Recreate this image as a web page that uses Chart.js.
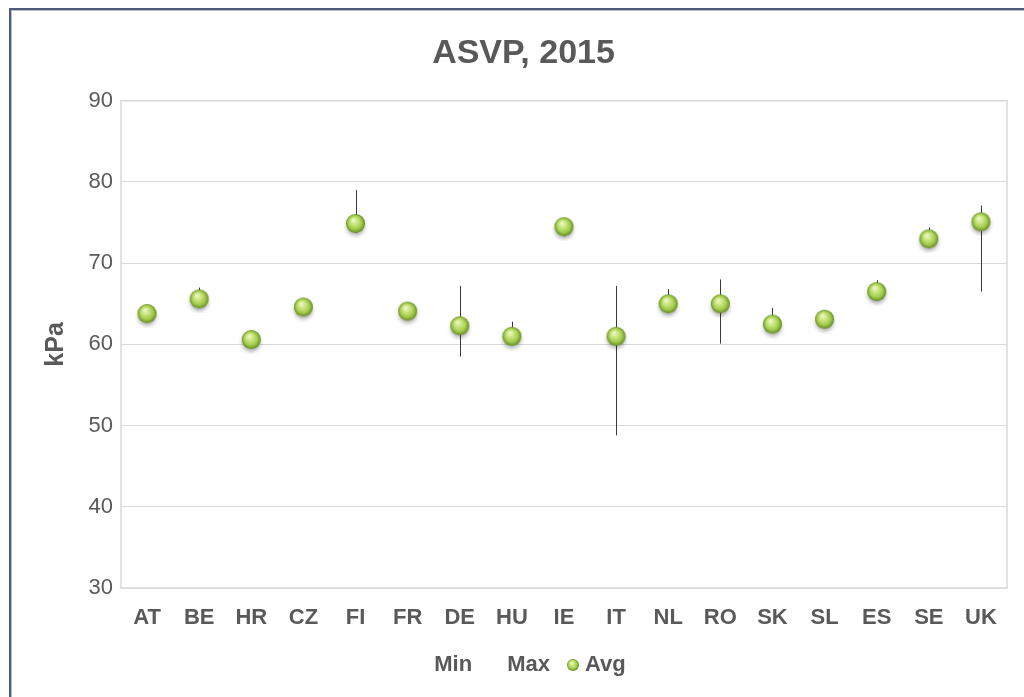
<!DOCTYPE html>
<html>
<head>
<meta charset="utf-8">
<title>ASVP, 2015</title>
<script src="https://cdn.jsdelivr.net/npm/chart.js@4"></script>
<style>
  html, body { margin: 0; padding: 0; background: #fff; overflow: hidden; }
  #wrap { position: relative; width: 1024px; height: 697px; }
  #frame {
    position: absolute; left: 9px; top: 8px; width: 1100px; height: 800px;
    border-top: 2px solid #4a5a78; border-left: 2px solid #4a5a78;
    box-shadow: inset 1px 1px 0 #b8c0cc; pointer-events: none;
  }
</style>
</head>
<body>
<div id="wrap">
  <canvas id="grafico" width="1024" height="697"></canvas>
  <div id="frame"></div>
</div>
<script>
// dados
const paises = ['AT', 'BE', 'HR', 'CZ', 'FI', 'FR', 'DE', 'HU', 'IE', 'IT', 'NL', 'RO', 'SK', 'SL', 'ES', 'SE', 'UK'];
const valoresMin = [63.3, 65.1, 60.1, 64.1, 73.7, 63.6, 58.5, 60.5, 73.3, 48.8, 64.5, 60.1, 62.0, 62.6, 66.0, 72.5, 66.5];
const valoresMax = [64.3, 67.0, 61.1, 65.1, 79.0, 64.6, 67.2, 62.8, 75.0, 67.2, 66.8, 68.0, 64.5, 63.6, 67.9, 74.4, 77.1];
const valoresAvg = [63.8, 65.6, 60.6, 64.6, 74.9, 64.1, 62.3, 61.0, 74.5, 61.0, 65.0, 65.0, 62.5, 63.1, 66.5, 73.0, 75.1];
const ticksY = [30, 40, 50, 60, 70, 80, 90];

const corTexto = '#595959';
const fonte = "'Liberation Sans', Arial, sans-serif";

// bolinha verde estilo Excel
function criarBola(raio, comSombra) {
    const tam = comSombra ? Math.ceil(raio * 2 + 10) : Math.ceil(raio * 2 + 2);
    const c = document.createElement('canvas');
    c.width = tam; c.height = tam;
    const g = c.getContext('2d');
    const cx = tam / 2, cy = tam / 2;
    if (comSombra) {
        g.save();
        g.shadowColor = 'rgba(0,0,0,0.35)';
        g.shadowBlur = 4;
        g.shadowOffsetY = 3;
        g.fillStyle = '#6f9528';
        g.beginPath(); g.arc(cx, cy, raio - 0.5, 0, Math.PI * 2); g.fill();
        g.restore();
    }
    const grad = g.createRadialGradient(cx - raio * 0.25, cy - raio * 0.4, 0, cx, cy, raio);
    grad.addColorStop(0, '#f2fad0');
    grad.addColorStop(0.35, '#cde888');
    grad.addColorStop(0.72, '#a2cb4a');
    grad.addColorStop(1, '#648b22');
    g.fillStyle = grad;
    g.beginPath(); g.arc(cx, cy, raio, 0, Math.PI * 2); g.fill();
    return c;
}
const bolaGrafico = criarBola(9.5, true);
const bolaLegenda = criarBola(6, false);
const vazio = document.createElement('canvas');
vazio.width = 1; vazio.height = 1;

// linhas max-min atrás das bolinhas
const linhasMinMax = {
    id: 'linhasMinMax',
    beforeDatasetsDraw(chart) {
        const ctx = chart.ctx;
        const area = chart.chartArea;
        ctx.save();
        // moldura da área de plotagem
        ctx.strokeStyle = '#d9d9d9';
        ctx.lineWidth = 1.5;
        ctx.strokeRect(area.left, area.top, area.right - area.left, area.bottom - area.top);
        const ptsMin = chart.getDatasetMeta(0).data;
        const ptsMax = chart.getDatasetMeta(1).data;
        ctx.strokeStyle = '#3a3a3a';
        ctx.lineWidth = 1;
        ptsMin.forEach((p, i) => {
            const x = Math.round(p.x) + 0.5;
            ctx.beginPath();
            ctx.moveTo(x, p.y);
            ctx.lineTo(x, ptsMax[i].y);
            ctx.stroke();
        });
        ctx.restore();
    }
};

const ctx = document.getElementById('grafico').getContext('2d');
const meuGrafico = new Chart(ctx, {
    type: 'line',
    data: {
        labels: paises,
        datasets: [
            { label: 'Min', data: valoresMin, showLine: false, pointRadius: 0, pointHoverRadius: 0 },
            { label: 'Max', data: valoresMax, showLine: false, pointRadius: 0, pointHoverRadius: 0 },
            { label: 'Avg', data: valoresAvg, showLine: false, pointStyle: bolaGrafico, pointRadius: 10 }
        ]
    },
    options: {
        responsive: false,
        animation: false,
        layout: { padding: { left: 40, right: 17, top: 0, bottom: 11 } },
        scales: {
            x: {
                offset: true,
                grid: { display: false, drawTicks: false },
                border: { display: false },
                ticks: { color: corTexto, padding: 17, font: { family: fonte, size: 22, weight: 'bold' } },
                afterFit: s => { s.height = 44; }
            },
            y: {
                min: 30,
                max: 90,
                afterBuildTicks: s => { s.ticks = ticksY.map(v => ({ value: v })); },
                grid: { color: '#d9d9d9', lineWidth: 1, drawTicks: false },
                border: { display: false },
                ticks: { color: corTexto, padding: 8, font: { family: fonte, size: 22 } },
                title: {
                    display: true, text: 'kPa', color: corTexto,
                    padding: { top: 1, bottom: 0 },
                    font: { family: fonte, size: 25, weight: 'bold' }
                },
                afterFit: s => { s.width = 81; }
            }
        },
        plugins: {
            title: {
                display: true, text: 'ASVP, 2015', color: corTexto,
                padding: { top: 33, bottom: 27 },
                font: { family: fonte, size: 34, weight: 'bold' }
            },
            legend: {
                position: 'bottom',
                labels: {
                    color: corTexto,
                    usePointStyle: true,
                    pointStyleWidth: 2,
                    padding: 22,
                    font: { family: fonte, size: 22, weight: 'bold' },
                    generateLabels: chart => chart.data.datasets.map((ds, i) => ({
                        text: ds.label,
                        datasetIndex: i,
                        pointStyle: i === 2 ? bolaLegenda : vazio,
                        fillStyle: 'transparent',
                        strokeStyle: 'transparent',
                        lineWidth: 0,
                        fontColor: corTexto,
                        hidden: false
                    }))
                }
            },
            tooltip: { enabled: false }
        }
    },
    plugins: [linhasMinMax]
});
</script>
</body>
</html>
